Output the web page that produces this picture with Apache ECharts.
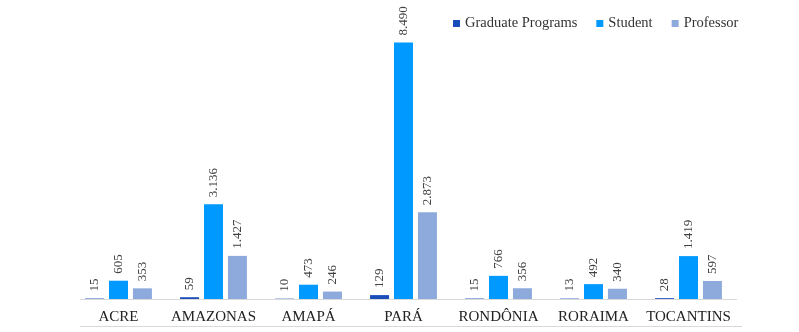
<!DOCTYPE html>
<html>
<head>
<meta charset="utf-8">
<script src="https://cdn.jsdelivr.net/npm/echarts@6/dist/echarts.min.js"></script>
<style>
  html, body { margin: 0; padding: 0; background: #fff; }
  #chart { width: 799px; height: 332px; }
</style>
</head>
<body>
<div id="chart"></div>
<script>
var states = ['ACRE', 'AMAZONAS', 'AMAPÁ', 'PARÁ', 'RONDÔNIA', 'RORAIMA', 'TOCANTINS'];
var graduatePrograms = [15, 59, 10, 129, 15, 13, 28];
var students = [605, 3136, 473, 8490, 766, 492, 1419];
var professors = [353, 1427, 246, 2873, 356, 340, 597];

var serif = '"Liberation Serif", "Times New Roman", serif';

// 8490 -> 8.490
function fmt(v) {
    return String(v).replace(/\B(?=(\d{3})+(?!\d))/g, '.');
}

function makeSeries(name, data, color) {
    return {
        name: name,
        type: 'bar',
        data: data,
        barWidth: 19,
        barGap: '26%',
        itemStyle: { color: color },
        label: {
            show: true,
            position: 'top',
            rotate: 90,
            align: 'left',
            verticalAlign: 'middle',
            distance: 7,
            fontFamily: serif,
            fontSize: 13,
            color: '#404040',
            formatter: function (p) { return fmt(p.value); }
        }
    };
}

var chart = echarts.init(document.getElementById('chart'));

var option = {
    animation: false,
    backgroundColor: '#fff',
    legend: {
        top: 11,
        left: 448,
        itemWidth: 7,
        itemHeight: 7,
        itemGap: 19,
        icon: 'rect',
        textStyle: { fontFamily: serif, fontSize: 14.5, color: '#333' },
        data: ['Graduate Programs', 'Student', 'Professor']
    },
    grid: { left: 71, right: 63, top: 27, bottom: 33 },
    xAxis: {
        type: 'category',
        data: states,
        axisLine: { show: false },
        axisTick: { show: false },
        axisLabel: {
            margin: 11,
            fontFamily: serif,
            fontSize: 15,
            color: '#222',
            interval: 0
        }
    },
    yAxis: {
        type: 'value',
        min: 0,
        max: 9000,
        show: false,
        splitLine: { show: false }
    },
    graphic: [
        { type: 'line', shape: { x1: 80, y1: 299.5, x2: 737, y2: 299.5 }, style: { stroke: '#d9d9d9', lineWidth: 1 } },
        { type: 'line', shape: { x1: 80, y1: 326.5, x2: 742, y2: 326.5 }, style: { stroke: '#d9d9d9', lineWidth: 1 } }
    ],
    series: [
        makeSeries('Graduate Programs', graduatePrograms, '#1a4cba'),
        makeSeries('Student', students, '#0099ff'),
        makeSeries('Professor', professors, '#8eaadc')
    ]
};

chart.setOption(option);
</script>
</body>
</html>
